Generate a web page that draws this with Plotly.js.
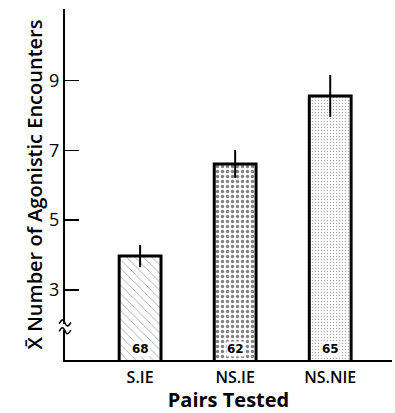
<!DOCTYPE html>
<html>
<head>
<meta charset="utf-8">
<script src="https://cdn.plot.ly/plotly-3.0.1.min.js"></script>
<style>html,body{margin:0;padding:0;background:#fff;}#chart{width:395px;height:413px;}</style>
</head>
<body>
<div id="chart"></div>
<script>
// Data
const categories = ["S.IE", "NS.IE", "NS.NIE"];
const meanEncounters = [3.97, 6.61, 8.56];
const errorValues = [0.32, 0.4, 0.6];
const pairCounts = ["68", "62", "65"];
const yTickValues = [3, 5, 7, 9];

const trace = {
  type: "bar",
  x: categories,
  y: meanEncounters,
  width: 0.44,
  marker: {
    color: "#ffffff",
    line: {color: "#000", width: 3},
    pattern: {
      shape: ["\\", ".", "."],
      size: [6, 5, 3],
      solidity: [0.12, 0.35, 0.18],
      fgcolor: ["#222", "#000", "#555"],
      bgcolor: "#fff",
      fillmode: "overlay"
    }
  },
  error_y: {type: "data", array: errorValues, visible: true, color: "#000", thickness: 2, width: 0},
  hoverinfo: "none"
};

const annotations = categories.map((c, i) => ({
  x: c, y: 1.0, xref: "x", yref: "y", yanchor: "bottom",
  text: "<b>" + pairCounts[i] + "</b>", showarrow: false,
  font: {family: "DejaVu Sans", size: 12, color: "#000"},
  bgcolor: "#fff", borderpad: 0, yshift: 3
}));

const breakMark = (yc) => "M -0.018 " + (yc - 0.02) +
  " C -0.01 " + (yc + 0.12) + ", -0.005 " + (yc + 0.12) + ", 0 " + yc +
  " C 0.005 " + (yc - 0.12) + ", 0.01 " + (yc - 0.12) + ", 0.018 " + (yc + 0.02);

const layout = {
  width: 395, height: 413,
  margin: {l: 65, r: 3, t: 9, b: 53},
  paper_bgcolor: "#fff", plot_bgcolor: "#fff",
  showlegend: false,
  font: {family: "Open Sans", color: "#000"},
  xaxis: {
    range: [-0.79, 2.65],
    showline: true, linecolor: "#000", linewidth: 2,
    ticks: "", showgrid: false, zeroline: false,
    ticklabelstandoff: 2,
    tickfont: {family: "Open Sans", size: 16, weight: 600},
    title: {text: "Pairs Tested", font: {family: "Open Sans", size: 20, weight: 700}, standoff: 7}
  },
  yaxis: {
    range: [0.99, 11.05],
    tickvals: yTickValues, ticktext: yTickValues.map(String),
    ticks: "inside", ticklen: 14, tickwidth: 1.5, tickcolor: "#000",
    showline: true, linecolor: "#000", linewidth: 2,
    showgrid: false, zeroline: false,
    tickfont: {family: "Open Sans", size: 18, weight: 500},
    title: {text: "X\u0304 Number of Agonistic Encounters", font: {family: "Open Sans", size: 20, weight: 600}, standoff: 1}
  },
  annotations: annotations,
  shapes: [
    {type: "line", xref: "paper", yref: "y", x0: 0, x1: 0, y0: 1.86, y1: 2.02, line: {color: "#fff", width: 5}},
    {type: "path", xref: "paper", yref: "y", path: breakMark(2.05), line: {color: "#000", width: 1.5}},
    {type: "path", xref: "paper", yref: "y", path: breakMark(1.83), line: {color: "#000", width: 1.5}}
  ]
};

Plotly.newPlot("chart", [trace], layout, {displayModeBar: false, staticPlot: true});
</script>
</body>
</html>
